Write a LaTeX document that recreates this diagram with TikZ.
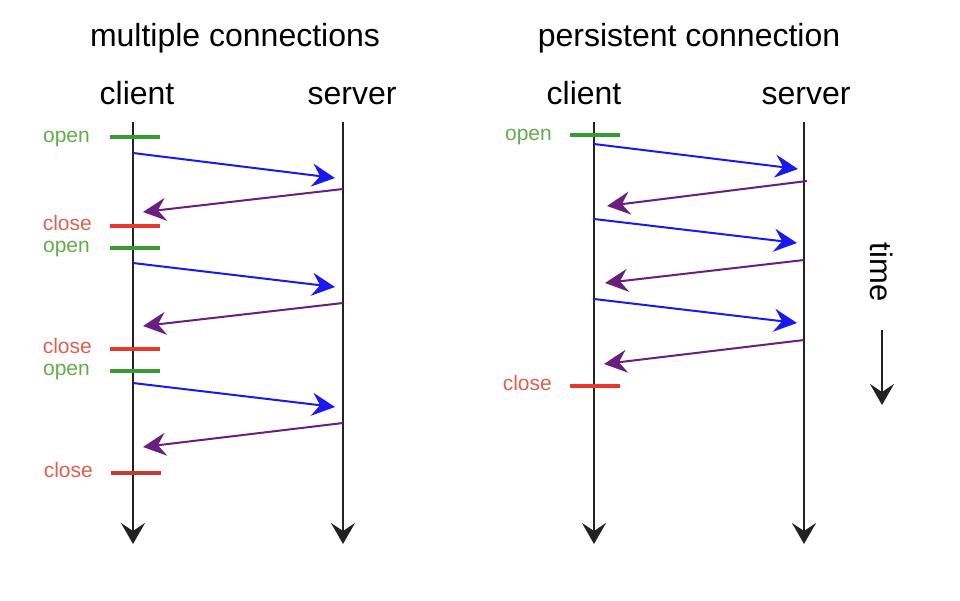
\documentclass[tikz,border=0pt]{standalone}
\usepackage{fontspec}
\setmainfont{Liberation Sans}
\usetikzlibrary{arrows.meta}
\definecolor{msgblue}{HTML}{1A1AF0}
\definecolor{msgpurple}{HTML}{6A1E80}
\definecolor{tickgreen}{HTML}{3C9A34}
\definecolor{tickred}{HTML}{E8382A}
\definecolor{tickdred}{HTML}{C83A30}
\definecolor{txtgreen}{HTML}{62AE4C}
\definecolor{txtred}{HTML}{E0604F}
\definecolor{linegray}{HTML}{222222}
\tikzset{
  bigtext/.style={font=\fontsize{32}{38}\selectfont, text=black, inner sep=0pt, anchor=base},
  smalllabel/.style={font=\fontsize{21}{25}\selectfont, inner sep=0pt, anchor=base east},
  lifeline/.style={draw=linegray, line width=2.5pt, -{Stealth[length=21pt,width=24pt,inset=8pt]}},
  reqarrow/.style={draw=msgblue, line width=2pt, -{Stealth[length=23pt,width=23pt,inset=8pt]}},
  resparrow/.style={draw=msgpurple, line width=2pt, -{Stealth[length=23pt,width=23pt,inset=8pt]}},
  opentick/.style={draw=tickgreen, line width=4pt},
  closetick/.style={draw=tickred, line width=4pt},
  closetickd/.style={draw=tickdred, line width=4pt},
}
\begin{document}
\begin{tikzpicture}[x=1pt,y=-1pt]
\useasboundingbox[fill=white] (0,0) rectangle (960,600);

% titles
\node[bigtext] (t1) at (235,46) {multiple connections};
\node[bigtext] (t2) at (689,46) {persistent connection};
\node[bigtext] (lc) at (137,104) {client};
\node[bigtext] (ls) at (352,104) {server};
\node[bigtext] (rc) at (584,104) {client};
\node[bigtext] (rs) at (806,104) {server};

% lifelines
\coordinate (lct) at (133,122); \coordinate (lcb) at (133,544);
\coordinate (lst) at (343,122); \coordinate (lsb) at (343,544);
\coordinate (rct) at (594,122); \coordinate (rcb) at (594,544);
\coordinate (rst) at (804,122); \coordinate (rsb) at (804,544);
\draw[lifeline] (lct) -- (lcb);
\draw[lifeline] (lst) -- (lsb);
\draw[lifeline] (rct) -- (rcb);
\draw[lifeline] (rst) -- (rsb);

% left ticks
\coordinate (lo1a) at (110,137); \coordinate (lo1b) at (160,137);
\coordinate (lx1a) at (110,226); \coordinate (lx1b) at (160,226);
\coordinate (lo2a) at (110,248); \coordinate (lo2b) at (160,248);
\coordinate (lx2a) at (110,349); \coordinate (lx2b) at (160,349);
\coordinate (lo3a) at (110,371); \coordinate (lo3b) at (160,371);
\coordinate (lx3a) at (111,473); \coordinate (lx3b) at (161,473);
\draw[opentick] (lo1a) -- (lo1b);
\draw[closetick] (lx1a) -- (lx1b);
\draw[opentick] (lo2a) -- (lo2b);
\draw[closetick] (lx2a) -- (lx2b);
\draw[opentick] (lo3a) -- (lo3b);
\draw[closetickd] (lx3a) -- (lx3b);
\node[smalllabel, text=txtgreen] (lo1t) at (90,142) {open};
\node[smalllabel, text=txtred] (lx1t) at (92,230) {close};
\node[smalllabel, text=txtgreen] (lo2t) at (90,252) {open};
\node[smalllabel, text=txtred] (lx2t) at (92,353) {close};
\node[smalllabel, text=txtgreen] (lo3t) at (90,375) {open};
\node[smalllabel, text=txtred] (lx3t) at (93,477) {close};

% left messages
\coordinate (lm1s) at (133,153); \coordinate (lm1e) at (335,178);
\coordinate (lr1s) at (343,189); \coordinate (lr1e) at (143,212);
\coordinate (lm2s) at (133,263); \coordinate (lm2e) at (335,287);
\coordinate (lr2s) at (343,303); \coordinate (lr2e) at (143,326);
\coordinate (lm3s) at (133,383); \coordinate (lm3e) at (335,407);
\coordinate (lr3s) at (343,423); \coordinate (lr3e) at (143,447);
\draw[reqarrow] (lm1s) -- (lm1e);
\draw[resparrow] (lr1s) -- (lr1e);
\draw[reqarrow] (lm2s) -- (lm2e);
\draw[resparrow] (lr2s) -- (lr2e);
\draw[reqarrow] (lm3s) -- (lm3e);
\draw[resparrow] (lr3s) -- (lr3e);

% right ticks
\coordinate (ro1a) at (570,135); \coordinate (ro1b) at (620,135);
\coordinate (rx1a) at (570,386); \coordinate (rx1b) at (620,386);
\draw[opentick] (ro1a) -- (ro1b);
\draw[closetick] (rx1a) -- (rx1b);
\node[smalllabel, text=txtgreen] (ro1t) at (552,140) {open};
\node[smalllabel, text=txtred] (rx1t) at (552,390) {close};

% right messages
\coordinate (rm1s) at (594,144); \coordinate (rm1e) at (798,169);
\coordinate (rr1s) at (807,181); \coordinate (rr1e) at (607,206);
\coordinate (rm2s) at (594,219); \coordinate (rm2e) at (797,243);
\coordinate (rr2s) at (804,260); \coordinate (rr2e) at (605,283);
\coordinate (rm3s) at (594,299); \coordinate (rm3e) at (797,323);
\coordinate (rr3s) at (804,340); \coordinate (rr3e) at (604,364);
\draw[reqarrow] (rm1s) -- (rm1e);
\draw[resparrow] (rr1s) -- (rr1e);
\draw[reqarrow] (rm2s) -- (rm2e);
\draw[resparrow] (rr2s) -- (rr2e);
\draw[reqarrow] (rm3s) -- (rm3e);
\draw[resparrow] (rr3s) -- (rr3e);

% time
\node[font=\fontsize{31}{36}\selectfont, inner sep=0pt, rotate=-90] (time) at (882,272) {time};
\coordinate (ta) at (882,330); \coordinate (tb) at (882,405);
\draw[lifeline] (ta) -- (tb);
\end{tikzpicture}
\end{document}
